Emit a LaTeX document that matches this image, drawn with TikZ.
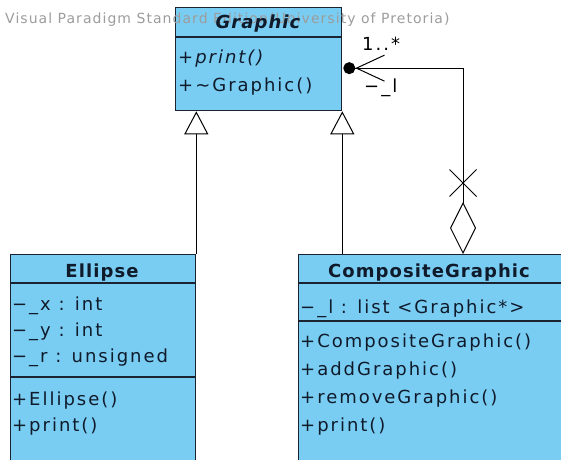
\documentclass[tikz,border=0pt]{standalone}
\usepackage{fontspec}
\setmainfont{DejaVu Sans}[LetterSpace=11]
\usetikzlibrary{arrows.meta, shapes.misc, positioning}

\definecolor{umlfill}{HTML}{7ACDF2}
\definecolor{umlline}{HTML}{1B2230}
\definecolor{umltext}{HTML}{0F1A2B}
\definecolor{wmark}{HTML}{9C9C9C}

\tikzset{
  umlclass/.style={draw=umlline, fill=umlfill, line width=1.3pt, rectangle,
    inner sep=0pt, anchor=north west},
  divider/.style={draw=umlline, line width=1.3pt},
  member/.style={anchor=base west, inner sep=0pt, text=umltext,
    font=\fontsize{18}{20}\selectfont},
  title/.style={anchor=base, inner sep=0pt, text=umltext,
    font=\fontsize{18}{20}\selectfont\bfseries\addfontfeature{LetterSpace=6}},
  endlabel/.style={anchor=base west, inner sep=0pt, text=black,
    font=\fontsize{18}{20}\selectfont},
  inherit/.style={draw=black, line width=1pt,
    -{Triangle[open, length=23pt, width=24pt, fill=white]}},
  aggr/.style={draw=black, line width=1pt,
    {Diamond[open, length=52pt, width=26pt]}-{Straight Barb[length=28pt, width=26pt] Circle[length=12pt]}}
}

\begin{document}
\begin{tikzpicture}[x=1pt, y=-1pt]

            \clip (0,0) rectangle (561,459);

            % Class boxes
            \node[umlclass, minimum width=166pt, minimum height=103pt] (graphic) at (175,7) {};
            \node[umlclass, minimum width=185pt, minimum height=230pt] (ellipse) at (10,254) {};
            \node[umlclass, minimum width=280pt, minimum height=230pt] (composite) at (298,254) {};

            % Compartment lines
            \draw[divider] ([yshift=-30pt]graphic.north west) -- ([yshift=-30pt]graphic.north east);
            \draw[divider] ([yshift=-29pt]ellipse.north west) -- ([yshift=-29pt]ellipse.north east);
            \draw[divider] ([yshift=-123pt]ellipse.north west) -- ([yshift=-123pt]ellipse.north east);
            \draw[divider] ([yshift=-29pt]composite.north west) -- ([yshift=-29pt]composite.north east);
            \draw[divider] ([yshift=-67pt]composite.north west) -- ([yshift=-67pt]composite.north east);

            % Watermark
            \node[anchor=base west, inner sep=0pt, text=wmark,
              font=\fontsize{14}{16}\selectfont\addfontfeature{LetterSpace=7.5}]
              (wmark) at (5,23) {Visual Paradigm Standard Edition(University of Pretoria)};

            % Graphic
            \node[title] (gtitle) at (258,28) {\itshape Graphic};
            \node[member] (gprint) at (178,63) {\itshape +print()};
            \node[member] (gdtor) at (178,91) {+\textasciitilde Graphic()};

            % Ellipse
            \node[title] (etitle) at (102,277) {Ellipse};
            \node[member] (ex) at (12,310) {−\_x : int};
            \node[member] (ey) at (12,336) {−\_y : int};
            \node[member] (er) at (12,362) {−\_r : unsigned};
            \node[member] (ector) at (12,405) {+Ellipse()};
            \node[member] (eprint) at (12,431) {+print()};

            % CompositeGraphic
            \node[title] (ctitle) at (429,277) {CompositeGraphic};
            \node[member] (cl) at (300,313) {−\_l : list <Graphic*>};
            \node[member] (cctor) at (300,347) {+CompositeGraphic()};
            \node[member] (cadd) at (300,375) {+addGraphic()};
            \node[member] (crem) at (300,403) {+removeGraphic()};
            \node[member] (cprint) at (300,431) {+print()};

            % Generalisations
            \draw[inherit] (ellipse.north east) -- (ellipse.north east |- graphic.south);
            \draw[inherit] (graphic.south east |- composite.north) -- (graphic.south east);

            % Aggregation
            \coordinate (whole) at ([xshift=165pt]composite.north west);
            \coordinate (part) at ([xshift=1pt, yshift=-9pt]graphic.east);
            \draw[aggr] (whole) |- (part);
            \node[draw, cross out, line width=1pt, minimum size=26pt, inner sep=0pt]
              (noway) at ([yshift=71pt]whole) {};
            \node[endlabel] (mult) at (362,50) {1..*};
            \node[endlabel] (role) at (364,92) {−\_l};

        \end{tikzpicture}
\end{document}
